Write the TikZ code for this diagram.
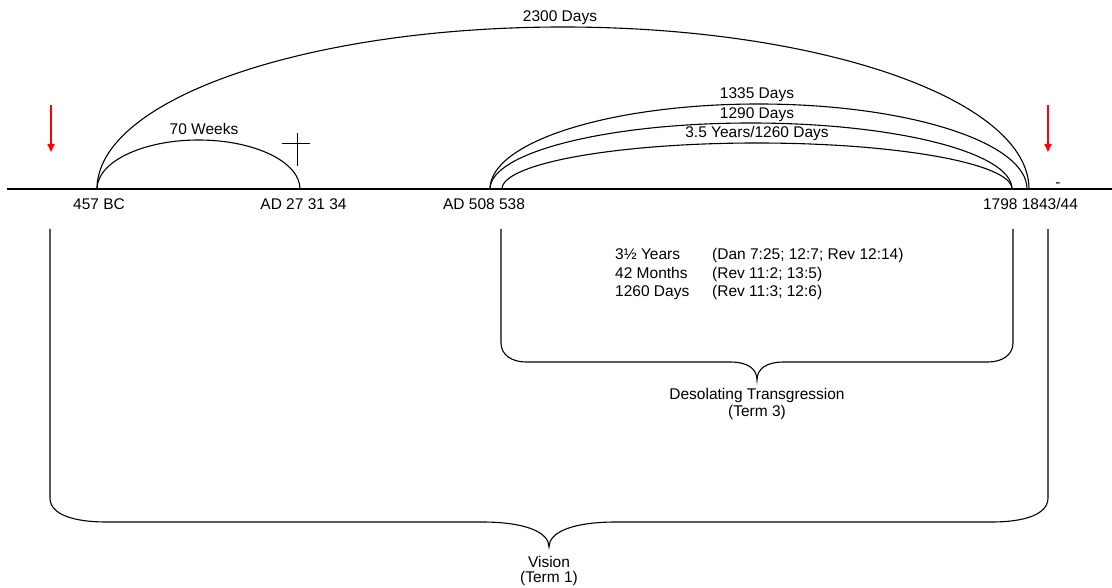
\documentclass[tikz,border=0pt]{standalone}
\usepackage{fontspec}
\setmainfont{Liberation Sans}
\usetikzlibrary{arrows.meta}
\begin{document}
\begin{tikzpicture}[x=1pt,y=-1pt,
  lbl/.style={inner sep=0pt, anchor=base, font=\fontsize{15.5}{17.5}\selectfont},
  lblw/.style={lbl, anchor=base west},
  ln/.style={line width=1.1pt, black},
  thin/.style={line width=0.9pt, black},
  redarrow/.style={draw=red, line width=1.6pt, -{Triangle[width=7pt,length=8pt]}}]
\useasboundingbox (0,0) rectangle (1112,588);
% timeline
\coordinate (tlL) at (7,189);
\coordinate (tlR) at (1112,189);
\draw[ln] (tlL) -- (tlR);
% key points on the line
\coordinate (p457) at (97,189);
\coordinate (p508) at (490,189);
\coordinate (p538) at (502,189);
% arcs
\draw[ln] (p457) arc[start angle=180, end angle=360, x radius=466, y radius=162];
\draw[ln] (p457) arc[start angle=180, end angle=360, x radius=101.5, y radius=49];
\draw[ln] (p508) arc[start angle=180, end angle=360, x radius=268.5, y radius=85];
\draw[ln] (p508) arc[start angle=180, end angle=360, x radius=261, y radius=66];
\draw[ln] (p538) arc[start angle=180, end angle=360, x radius=255, y radius=46];
% cross
\coordinate (cT) at (297,133); \coordinate (cB) at (297,166);
\coordinate (cL) at (282,143); \coordinate (cR) at (310,143);
\draw[thin] (cT) -- (cB);
\draw[thin] (cL) -- (cR);
% red arrows
\coordinate (ra1s) at (51,105); \coordinate (ra1e) at (51,152);
\coordinate (ra2s) at (1048,105); \coordinate (ra2e) at (1048,152);
\draw[redarrow] (ra1s) -- (ra1e);
\draw[redarrow] (ra2s) -- (ra2e);
% labels
\node[lbl] (l2300) at (560,22) {2300 Days};
\node[lbl] (l70) at (204,135) {70 Weeks};
\node[lbl] (l1335) at (757,99) {1335 Days};
\node[lbl] (l1290) at (757,119) {1290 Days};
\node[lbl] (l1260) at (757,138) {3.5 Years/1260 Days};
\node[lbl] (d457) at (99,210) {457 BC};
\node[lbl] (d27) at (303.5,210) {AD 27 31 34};
\node[lbl] (d508) at (484,210) {AD 508 538};
\node[lbl] (d1798) at (1030.5,210) {1798 1843/44};
\node[lbl] (dash) at (1058,188) {-};
% table
\node[lblw] (r1a) at (615,260) {3½ Years};
\node[lblw] (r1b) at (712,260) {(Dan 7:25; 12:7; Rev 12:14)};
\node[lblw] (r2a) at (615,279) {42 Months};
\node[lblw] (r2b) at (712,279) {(Rev 11:2; 13:5)};
\node[lblw] (r3a) at (615,297) {1260 Days};
\node[lblw] (r3b) at (712,297) {(Rev 11:3; 12:6)};
% desolating brace
\coordinate (dbL) at (501,229); \coordinate (dbR) at (1013,229);
\coordinate (dbT) at (757,380);
\draw[ln] (dbL) -- (501,343) .. controls (501,355) and (512,362) .. (526,362)
  -- (730,362) .. controls (748,362) and (757,369) .. (dbT)
  .. controls (757,369) and (766,362) .. (784,362)
  -- (988,362) .. controls (1002,362) and (1013,355) .. (1013,343) -- (dbR);
\node[lbl] (dt1) at (757,399) {Desolating Transgression};
\node[lbl] (dt2) at (757,416) {(Term 3)};
% vision brace
\coordinate (vbL) at (50,229); \coordinate (vbR) at (1048,229);
\coordinate (vbT) at (549,547);
\draw[ln] (vbL) -- (50,498) .. controls (50,515) and (75,522) .. (106,522)
  -- (482,522) .. controls (525,522) and (549,532) .. (vbT)
  .. controls (549,532) and (573,522) .. (616,522)
  -- (992,522) .. controls (1023,522) and (1048,515) .. (1048,498) -- (vbR);
\node[lbl] (vt1) at (549,567) {Vision};
\node[lbl] (vt2) at (549,582) {(Term 1)};
\end{tikzpicture}
\end{document}
